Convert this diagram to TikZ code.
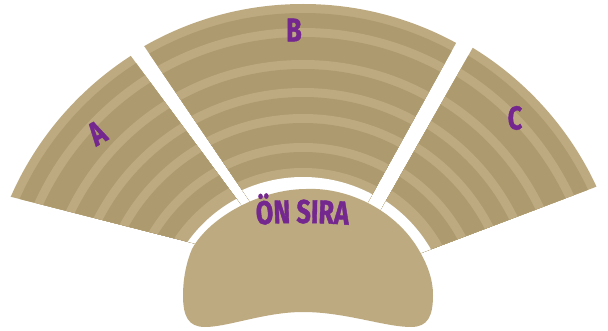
\documentclass[tikz,border=0pt]{standalone}
\usepackage{fontspec}
\usepackage{xcolor}
\usetikzlibrary{decorations.text}
\newfontfamily\seatfont[FakeStretch=0.76,BoldFeatures={FakeBold=1.2}]{Fira Sans}
\definecolor{seatlight}{HTML}{BDAA81}
\definecolor{seatdark}{HTML}{AD9A6E}
\definecolor{seatpurple}{HTML}{74278F}
% one block of rows: centre, clip outline, inner radius
\newcommand{\seatblock}[3]{%
  \begin{scope}
    \clip #2 -- cycle;
    \foreach \rad/\col in {320/seatlight,311/seatdark,296/seatlight,287/seatdark,264/seatlight,255/seatdark,236/seatlight,227/seatdark,210/seatlight,201/seatdark,181/seatlight,172/seatdark,156/seatlight,#3/white}
      \fill[\col] #1 circle (\rad pt);
  \end{scope}}

\begin{document}
\begin{tikzpicture}[
    x=1pt, y=-1pt,
    blocklabel/.style={text=seatpurple, font=\seatfont\bfseries\fontsize{33}{33}\selectfont, inner sep=0pt}
]
\useasboundingbox (0,0) rectangle (608,331);

\seatblock{(304,325)}{(-8,192) -- (-20,20) -- (105,21) -- (255,224) -- (228,252)}{143}
\seatblock{(303,324)}{(125,18) -- (303,-20) -- (476,7) -- (352,231) -- (268,228)}{147}
\seatblock{(306,321)}{(493,12) -- (630,10) -- (622,177) -- (392,264) -- (369,231)}{144}

% front row
\fill[seatlight] (306,189) .. controls (350,187) and (398,212) .. (420,252)
  .. controls (428,266) and (433,280) .. (433,295)
  .. controls (433,316) and (428,327) .. (411,327)
  .. controls (385,327) and (345,312) .. (303,312)
  .. controls (265,312) and (228,327) .. (205,327)
  .. controls (188,327) and (183,316) .. (183,295)
  .. controls (183,280) and (186,263) .. (192,249)
  .. controls (210,216) and (262,189) .. (306,189) -- cycle;

\node[blocklabel, rotate=30] (blockA) at (97,133) {A};
\node[blocklabel] (blockB) at (294,30) {B};
\node[blocklabel] (blockC) at (515,118) {C};

\path[decorate, decoration={text along path, text align=center,
    text={|\seatfont\bfseries\fontsize{33}{33}\selectfont\color{seatpurple}|ÖN SIRA}}]
  (243,226) .. controls (280,222) and (320,222) .. (362,226);
\end{tikzpicture}
\end{document}
